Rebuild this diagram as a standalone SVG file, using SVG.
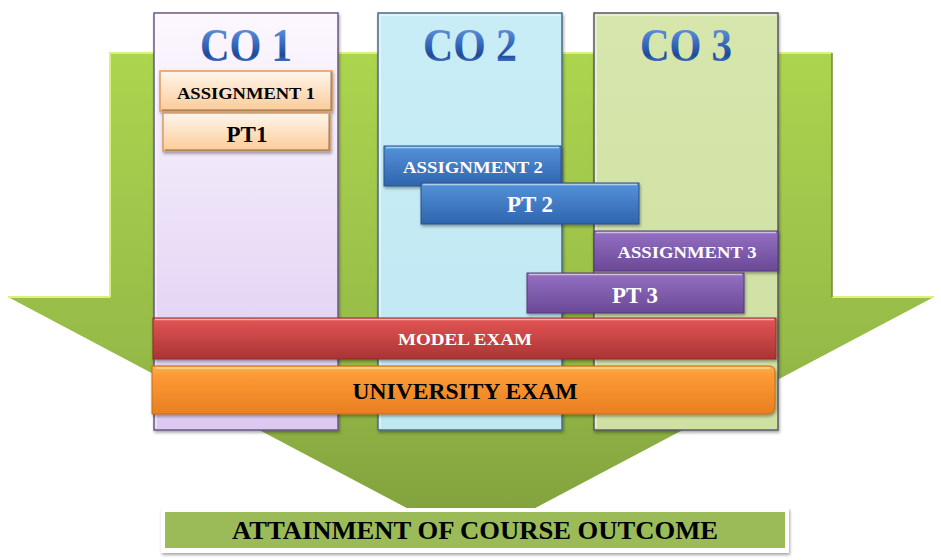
<svg xmlns="http://www.w3.org/2000/svg" width="941" height="560" viewBox="0 0 941 560">
<defs>
<linearGradient id="gArrow" x1="0" y1="0" x2="0" y2="1">
<stop offset="0" stop-color="#acd54e"/><stop offset="0.6" stop-color="#96bb48"/><stop offset="1" stop-color="#7f9e3c"/>
</linearGradient>
<linearGradient id="gCo1" x1="0" y1="0" x2="0" y2="1">
<stop offset="0" stop-color="#fcf8fe"/><stop offset="1" stop-color="#dbc9f1"/>
</linearGradient>
<linearGradient id="gCo2" x1="0" y1="0" x2="0" y2="1">
<stop offset="0" stop-color="#c8edf6"/><stop offset="1" stop-color="#c0e8f2"/>
</linearGradient>
<linearGradient id="gCo3" x1="0" y1="0" x2="0" y2="1">
<stop offset="0" stop-color="#d6e6ac"/><stop offset="1" stop-color="#cfe0a3"/>
</linearGradient>
<linearGradient id="gTitle" x1="0" y1="0" x2="0" y2="1">
<stop offset="0" stop-color="#7aa8ea"/><stop offset="0.45" stop-color="#3a6cc0"/><stop offset="0.7" stop-color="#1d4a9a"/><stop offset="1" stop-color="#7aa8e8"/>
</linearGradient>
<linearGradient id="gPeach" x1="0" y1="0" x2="0" y2="1">
<stop offset="0" stop-color="#fff6ec"/><stop offset="1" stop-color="#fbcb98"/>
</linearGradient>
<linearGradient id="gBlue" x1="0" y1="0" x2="0" y2="1">
<stop offset="0" stop-color="#5592da"/><stop offset="1" stop-color="#2e65ae"/>
</linearGradient>
<linearGradient id="gPurple" x1="0" y1="0" x2="0" y2="1">
<stop offset="0" stop-color="#9470c2"/><stop offset="1" stop-color="#6a4996"/>
</linearGradient>
<linearGradient id="gRed" x1="0" y1="0" x2="0" y2="1">
<stop offset="0" stop-color="#e45555"/><stop offset="1" stop-color="#aa3434"/>
</linearGradient>
<linearGradient id="gOrange" x1="0" y1="0" x2="0" y2="1">
<stop offset="0" stop-color="#fdb050"/><stop offset="0.2" stop-color="#fc9a34"/><stop offset="1" stop-color="#e97f22"/>
</linearGradient>
<filter id="sh" x="-10%" y="-20%" width="120%" height="150%">
<feDropShadow dx="1" dy="2" stdDeviation="1.5" flood-color="#000" flood-opacity="0.35"/>
</filter>
</defs>
<style>
.col{stroke-width:1.5}
.bar{filter:url(#sh)}
.t{font-family:"Liberation Serif","Times New Roman",serif;font-weight:bold;text-anchor:middle}
.title{font-size:47px;fill:url(#gTitle)}
.sm{font-size:17px}
.md{font-size:23px}
.blk{fill:#000}
.wht{fill:#fff}
.hl{fill:none;stroke:#fff;stroke-opacity:0.55;stroke-width:1.5}
.dk{fill:none;stroke:#000;stroke-opacity:0.3;stroke-width:1.5}
</style>

<g id="arrow">
<polygon points="110,53 832,53 832,297 934,297 471,542 8,297 110,297" fill="url(#gArrow)"/>
<polyline points="110,297 110,53 832,53" fill="none" stroke="#d9f27e" stroke-width="2"/>
<line x1="8" y1="297" x2="110" y2="297" stroke="#d9f27e" stroke-width="2"/>
<line x1="832" y1="297" x2="934" y2="297" stroke="#d9f27e" stroke-width="2"/>
<line x1="832" y1="53" x2="832" y2="297" stroke="#6f8c30" stroke-width="1.5"/>
</g>

<g id="co1">
<rect class="col bar" x="154" y="13" width="184" height="417" fill="url(#gCo1)" stroke="#6a5887"/>
<polyline class="hl" points="156,428 156,15 336,15"/>
<text class="t title" x="246" y="61" textLength="92" lengthAdjust="spacingAndGlyphs">CO 1</text>
</g>
<g id="co2">
<rect class="col bar" x="378" y="13" width="184" height="417" fill="url(#gCo2)" stroke="#4d6d82"/>
<polyline class="hl" points="380,428 380,15 560,15"/>
<text class="t title" x="470" y="61" textLength="94" lengthAdjust="spacingAndGlyphs">CO 2</text>
</g>
<g id="co3">
<rect class="col bar" x="594" y="13" width="184" height="417" fill="url(#gCo3)" stroke="#5b5a66"/>
<polyline class="hl" points="596,428 596,15 776,15"/>
<text class="t title" x="686" y="61" textLength="92" lengthAdjust="spacingAndGlyphs">CO 3</text>
</g>

<g id="assignment1">
<rect class="bar" x="160" y="71" width="172" height="40" fill="url(#gPeach)" stroke="#e09a5c" stroke-width="1.5"/>
<polyline class="dk" points="162,110 331,110 331,72"/>
<text class="t sm blk" x="246" y="99" textLength="138" lengthAdjust="spacingAndGlyphs">ASSIGNMENT 1</text>
</g>
<g id="pt1">
<rect class="bar" x="163" y="113" width="167" height="38" fill="url(#gPeach)" stroke="#e09a5c" stroke-width="1.5"/>
<polyline class="dk" points="165,150 329,150 329,114"/>
<text class="t md blk" x="247" y="142">PT1</text>
</g>

<g id="assignment2">
<rect class="bar" x="384" y="146" width="177" height="40" fill="url(#gBlue)" stroke="#285088" stroke-width="1"/>
<line class="hl" x1="386" y1="147.5" x2="559" y2="147.5"/>
<text class="t sm wht" x="473" y="173" textLength="140" lengthAdjust="spacingAndGlyphs">ASSIGNMENT 2</text>
</g>
<g id="pt2">
<rect class="bar" x="421" y="183" width="218" height="41" fill="url(#gBlue)" stroke="#285088" stroke-width="1"/>
<line class="hl" x1="423" y1="184.5" x2="637" y2="184.5"/>
<text class="t md wht" x="530" y="212">PT 2</text>
</g>

<g id="assignment3">
<rect class="bar" x="594" y="231" width="184" height="40" fill="url(#gPurple)" stroke="#53387a" stroke-width="1"/>
<line class="hl" x1="596" y1="232.5" x2="776" y2="232.5"/>
<text class="t sm wht" x="687" y="258" textLength="139" lengthAdjust="spacingAndGlyphs">ASSIGNMENT 3</text>
</g>
<g id="pt3">
<rect class="bar" x="527" y="273" width="217" height="40" fill="url(#gPurple)" stroke="#53387a" stroke-width="1"/>
<line class="hl" x1="529" y1="274.5" x2="742" y2="274.5"/>
<text class="t md wht" x="635" y="303">PT 3</text>
</g>

<g id="model-exam">
<rect class="bar" x="153" y="318" width="623" height="41" fill="url(#gRed)" stroke="#8e2a2a" stroke-width="1"/>
<line class="hl" x1="155" y1="319.5" x2="774" y2="319.5"/>
<text class="t sm wht" x="465" y="345" textLength="134" lengthAdjust="spacingAndGlyphs">MODEL EXAM</text>
</g>

<g id="university-exam">
<path class="bar" d="M152,366 H769 Q775,366 775,372 V406 Q775,414 767,414 H152 Z" fill="url(#gOrange)" stroke="#c86a18" stroke-width="1"/>
<line x1="156" y1="368" x2="770" y2="368" stroke="#ffd080" stroke-width="2"/>
<text class="t blk" x="465" y="399" font-size="24" textLength="225" lengthAdjust="spacingAndGlyphs">UNIVERSITY EXAM</text>
</g>

<g id="attainment">
<rect x="161" y="508" width="628" height="45" fill="#fff" filter="url(#sh)"/>
<rect x="165" y="512" width="620" height="36" fill="#9bbb59"/>
<text class="t blk" x="475" y="539" font-size="26" textLength="486" lengthAdjust="spacingAndGlyphs">ATTAINMENT OF COURSE OUTCOME</text>
</g>
</svg>
